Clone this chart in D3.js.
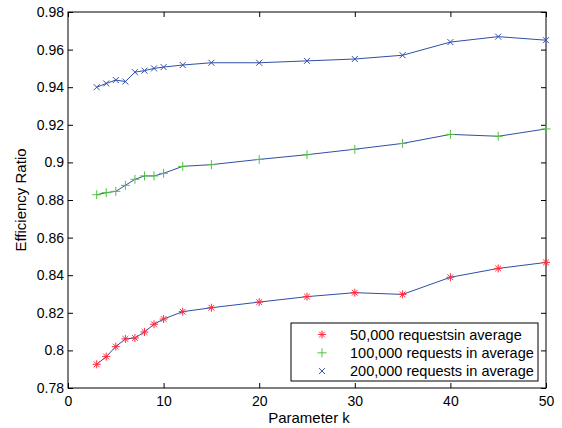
<!DOCTYPE html>
<html>
<head>
<meta charset="utf-8">
<script src="https://cdn.jsdelivr.net/npm/d3@7"></script>
<style>
  body { margin: 0; background: #fff; }
  svg { display: block; font-family: "Liberation Sans", Arial, sans-serif; }
</style>
</head>
<body>
<div id="chart"></div>
<script>
// data
const kValues = [3, 4, 5, 6, 7, 8, 9, 10, 12, 15, 20, 25, 30, 35, 40, 45, 50]
const req50k  = [0.7926, 0.7967, 0.8020, 0.8061, 0.8066, 0.8098, 0.8139, 0.8167, 0.8206, 0.8227, 0.8257, 0.8286, 0.8307, 0.8298, 0.8389, 0.8436, 0.8468]
const req100k = [0.8828, 0.8839, 0.8846, 0.8878, 0.8910, 0.8928, 0.8928, 0.8942, 0.8979, 0.8988, 0.9016, 0.9041, 0.9070, 0.9101, 0.9149, 0.9139, 0.9178]
const req200k = [0.9400, 0.9420, 0.9438, 0.9430, 0.9480, 0.9488, 0.9500, 0.9507, 0.9518, 0.9530, 0.9530, 0.9540, 0.9550, 0.9570, 0.9640, 0.9669, 0.9650]
const seriesNames = ["50,000 requestsin average", "100,000 requests in average", "200,000 requests in average"]
const xTicks = [0, 10, 20, 30, 40, 50]
const yTicks = [0.78, 0.80, 0.82, 0.84, 0.86, 0.88, 0.90, 0.92, 0.94, 0.96, 0.98]
const yTickLabels = ["0.78", "0.8", "0.82", "0.84", "0.86", "0.88", "0.9", "0.92", "0.94", "0.96", "0.98"]

const lineColor = "#2f4fa8"
const markerColors = ["#ff2a3c", "#55c043", "#3050b0"]
const markerTypes = ["star", "plus", "cross"]

// dimensions
let dimensions = {
  width: 562,
  height: 428,
  margin: { top: 12, right: 16, bottom: 40, left: 68 },
}
dimensions.boundedWidth = dimensions.width - dimensions.margin.left - dimensions.margin.right
dimensions.boundedHeight = dimensions.height - dimensions.margin.top - dimensions.margin.bottom

const wrapper = d3.select("#chart")
  .append("svg")
    .attr("width", dimensions.width)
    .attr("height", dimensions.height)

const bounds = wrapper.append("g")
  .attr("transform", `translate(${dimensions.margin.left},${dimensions.margin.top})`)

// scales
const xScale = d3.scaleLinear()
  .domain([0, 50])
  .range([0, dimensions.boundedWidth])

const yScale = d3.scaleLinear()
  .domain([0.78, 0.98])
  .range([dimensions.boundedHeight, 0])

// axes (MATLAB style: ticks inside, on all four sides)
const tickLen = 5
const styleAxis = g => {
  g.select(".domain").remove()
  g.selectAll(".tick line").attr("stroke", "#000").attr("stroke-width", 1)
  g.selectAll(".tick text").attr("fill", "#000").style("font-size", "14px")
}

bounds.append("g")
  .attr("transform", `translate(0,${dimensions.boundedHeight})`)
  .call(d3.axisBottom(xScale).tickValues(xTicks).tickSize(-tickLen).tickPadding(8).tickFormat(d3.format("d")))
  .call(styleAxis)

bounds.append("g")
  .call(d3.axisTop(xScale).tickValues(xTicks).tickSize(-tickLen).tickFormat(""))
  .call(styleAxis)

bounds.append("g")
  .call(d3.axisLeft(yScale).tickValues(yTicks).tickSize(-tickLen).tickPadding(4)
    .tickFormat((d, i) => yTickLabels[i]))
  .call(styleAxis)

bounds.append("g")
  .attr("transform", `translate(${dimensions.boundedWidth},0)`)
  .call(d3.axisRight(yScale).tickValues(yTicks).tickSize(-tickLen).tickFormat(""))
  .call(styleAxis)

bounds.append("rect")
  .attr("width", dimensions.boundedWidth)
  .attr("height", dimensions.boundedHeight)
  .attr("fill", "none")
  .attr("stroke", "#000")
  .attr("stroke-width", 1)

// markers
function drawMarker(g, type, color, s) {
  const segs = []
  if (type === "plus" || type === "star") segs.push([-s, 0, s, 0], [0, -s, 0, s])
  if (type === "cross" || type === "star") {
    const d = type === "star" ? s * 0.72 : s * 0.75
    segs.push([-d, -d, d, d], [-d, d, d, -d])
  }
  segs.forEach(([x1, y1, x2, y2]) => {
    g.append("line")
      .attr("x1", x1).attr("y1", y1).attr("x2", x2).attr("y2", y2)
      .attr("stroke", color).attr("stroke-width", 1)
  })
}

// draw data
const allSeries = [req50k, req100k, req200k]

const lineGenerator = d3.line()
  .x((d, i) => xScale(kValues[i]))
  .y(d => yScale(d))

allSeries.forEach((values, si) => {
  const g = bounds.append("g")
  g.append("path")
    .attr("d", lineGenerator(values))
    .attr("fill", "none")
    .attr("stroke", lineColor)
    .attr("stroke-width", 1)
  values.forEach((v, i) => {
    const m = g.append("g")
      .attr("transform", `translate(${xScale(kValues[i])},${yScale(v)})`)
    drawMarker(m, markerTypes[si], markerColors[si], si === 1 ? 4.5 : 4)
  })
})

// legend
const legend = bounds.append("g")
  .attr("transform", `translate(${291 - dimensions.margin.left},${323 - dimensions.margin.top})`)

legend.append("rect")
  .attr("width", 247)
  .attr("height", 58)
  .attr("fill", "#fff")
  .attr("stroke", "#000")
  .attr("stroke-width", 1)

seriesNames.forEach((name, i) => {
  const y = 11.5 + i * 18.3
  const m = legend.append("g").attr("transform", `translate(31,${y})`)
  drawMarker(m, markerTypes[i], markerColors[i], i === 1 ? 4.5 : 4)
  legend.append("text")
    .attr("x", 59)
    .attr("y", y)
    .attr("dy", "0.35em")
    .style("font-size", "14.5px")
    .text(name)
})

// axis labels
wrapper.append("text")
  .attr("x", dimensions.margin.left + dimensions.boundedWidth / 2 + 2)
  .attr("y", 423)
  .attr("text-anchor", "middle")
  .style("font-size", "15px")
  .text("Parameter k")

wrapper.append("text")
  .attr("transform", `translate(26,${dimensions.margin.top + dimensions.boundedHeight / 2}) rotate(-90)`)
  .attr("text-anchor", "middle")
  .style("font-size", "15px")
  .text("Efficiency Ratio")
</script>
</body>
</html>
